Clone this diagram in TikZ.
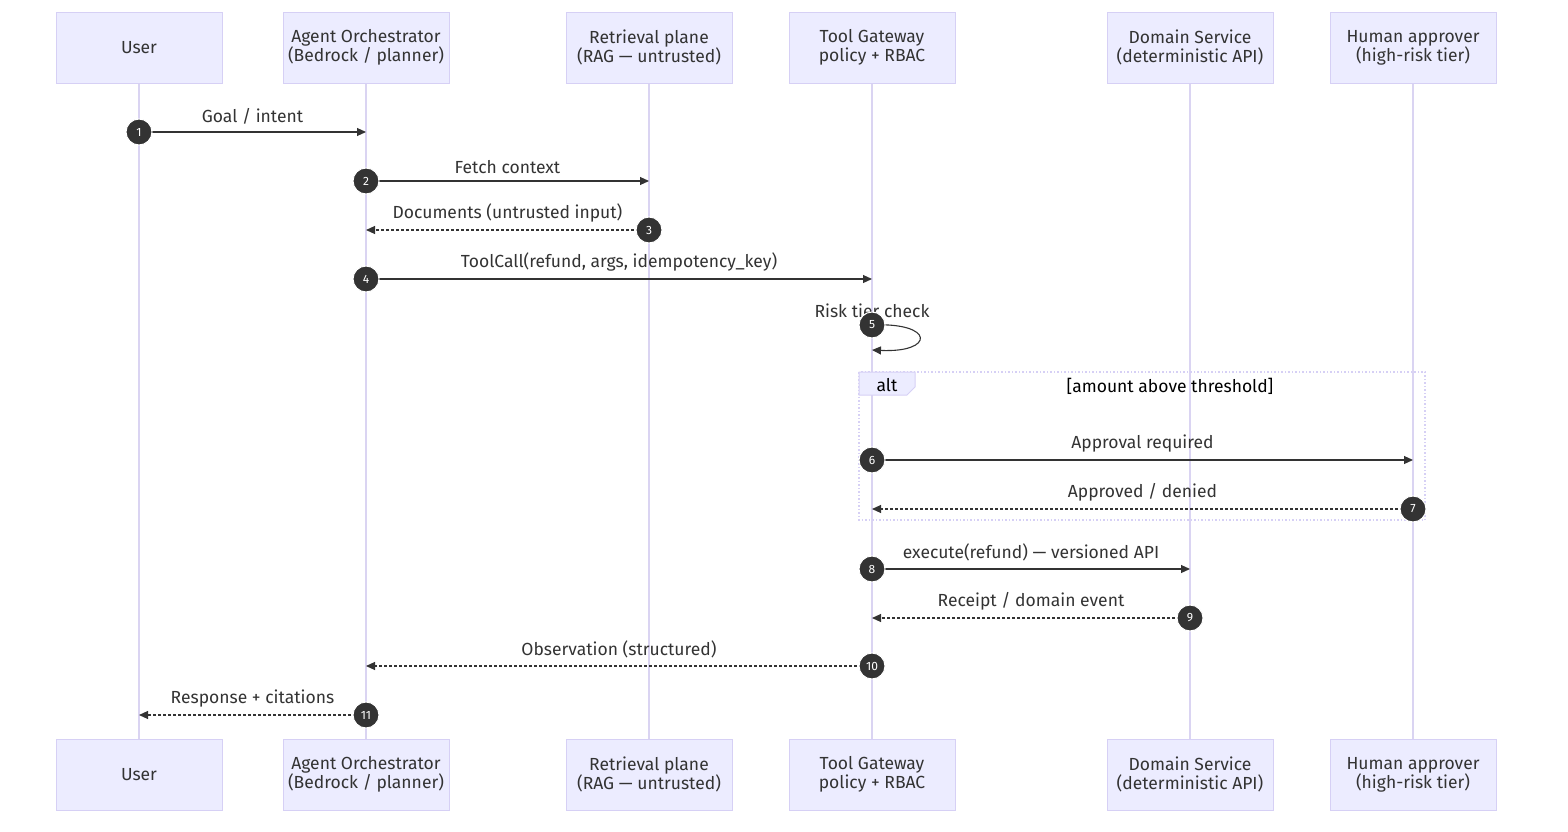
\documentclass[tikz,border=0pt]{standalone}
\usepackage{fontspec}
\setmainfont{Fira Sans}
\usetikzlibrary{arrows.meta}
\definecolor{actfill}{HTML}{ECECFF}
\definecolor{actdraw}{HTML}{D6D0F5}
\definecolor{life}{HTML}{DAD4F2}
\definecolor{txt}{HTML}{333333}
\begin{document}
\begin{tikzpicture}[x=1pt,y=-1pt,
  every node/.style={font=\fontsize{17.5}{19}\selectfont, text=txt},
  actor/.style={draw=actdraw, fill=actfill, minimum width=166pt, minimum height=71pt, align=center, inner sep=0pt},
  msg/.style={draw=txt, line width=1.1pt, -{Triangle[length=9pt,width=8pt]}},
  ret/.style={msg, dash pattern=on 3pt off 2pt},
  num/.style={circle, fill=txt, draw=white, line width=1pt, minimum size=26pt, inner sep=0pt, text=white, font=\fontsize{12}{14}\selectfont},
  lbl/.style={anchor=south, inner sep=2pt, yshift=5pt}]
\useasboundingbox (0,0) rectangle (1568,832);
\foreach \n/\x/\t in {u/139/User, a/366/{Agent Orchestrator\\(Bedrock / planner)}, r/649/{Retrieval plane\\(RAG — untrusted)}, g/872/{Tool Gateway\\policy + RBAC}, d/1190/{Domain Service\\(deterministic API)}, h/1413/{Human approver\\(high-risk tier)}}{
  \draw[life, line width=2pt] (\x,83) -- (\x,739);
  \node[actor] (\n t) at (\x,47.5) {\t};
  \node[actor] (\n b) at (\x,774.5) {\t};
}
% alt box
\draw[actdraw, line width=1.5pt, dotted] (859,372) rectangle (1425,520);
\draw[actdraw, fill=actfill, line width=1pt] (859,372) -- (915,372) -- (915,387) -- (907,395) -- (859,395) -- cycle;
\node[text=black] (altl) at (887,385) {alt};
\node[text=black] (altc) at (1170,386) {[amount above threshold]};
% coordinates
\foreach \n/\x in {u/139,a/366,r/649,g/872,d/1190,h/1413}{
  \foreach \i/\y in {1/132,2/181,3/230,4/279,6/460,7/509,8/569,9/618,10/666,11/715}{
    \coordinate (\n\i) at (\x,\y);}}
\draw[msg] (u1) -- node[lbl]{Goal / intent} (a1);
\draw[msg] (a2) -- node[lbl]{Fetch context} (r2);
\draw[ret] (r3) -- node[lbl]{Documents (untrusted input)} (a3);
\draw[msg] (a4) -- node[lbl]{ToolCall(refund, args, idempotency\_key)} (g4);
\coordinate (s1) at (872,325); \coordinate (s2) at (872,350);
\node (rt) at (872,311) {Risk tier check};
\draw[msg] (s1) .. controls (935,322) and (935,353) .. (s2);
\draw[msg] (g6) -- node[lbl]{Approval required} (h6);
\draw[ret] (h7) -- node[lbl]{Approved / denied} (g7);
\draw[msg] (g8) -- node[lbl]{execute(refund) — versioned API} (d8);
\draw[ret] (d9) -- node[lbl]{Receipt / domain event} (g9);
\draw[ret] (g10) -- node[lbl]{Observation (structured)} (a10);
\draw[ret] (a11) -- node[lbl]{Response + citations} (u11);
\foreach \c/\i in {u1/1,a2/2,r3/3,a4/4,s1/5,g6/6,h7/7,g8/8,d9/9,g10/10,a11/11}{
  \node[num] (n\i) at (\c) {\i};}
\end{tikzpicture}
\end{document}
